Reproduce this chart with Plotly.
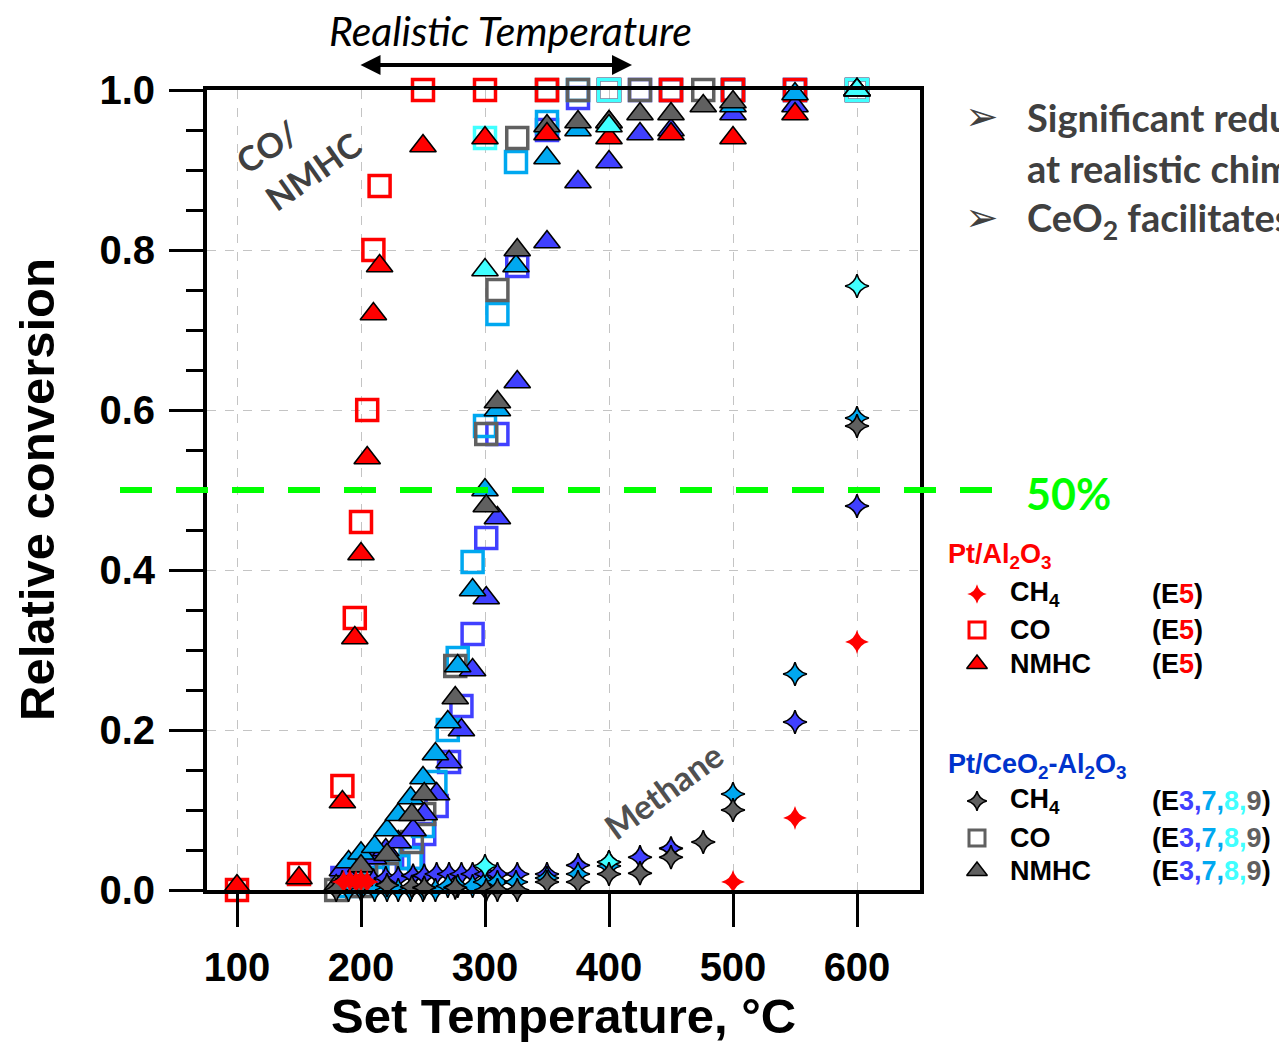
import plotly.graph_objects as go

W, H = 1279, 1042

# ---------------- data ----------------
# Pt/Al2O3 (E5)
e5_T = [100, 150, 185, 195, 200, 205, 210, 215, 250, 300, 350, 400, 450, 500, 550, 600]
e5_co = [0.0, 0.02, 0.13, 0.34, 0.46, 0.60, 0.80, 0.88, 1.0, 1.0, 1.0, 1.0, 1.0, 1.0, 1.0, 1.0]
e5_nmhc = [0.005, 0.015, 0.11, 0.315, 0.42, 0.54, 0.72, 0.78, 0.93, 0.94, 0.945, 0.94, 0.945, 0.94, 0.97, 1.0]
e5_ch4_T = [186, 191, 196, 200, 205, 500, 550, 600]
e5_ch4 = [0.01, 0.012, 0.01, 0.012, 0.01, 0.01, 0.09, 0.31]

# Pt/CeO2-Al2O3 (E3)
e3_T = [185, 200, 210, 220, 230, 242, 251, 261, 271, 281, 290, 301, 310, 326, 350, 375, 400, 425, 450, 500, 550, 600]
e3_co = [0.015, 0.015, 0.02, 0.02, 0.03, 0.04, 0.07, 0.105, 0.16, 0.23, 0.32, 0.44, 0.57, 0.78, 0.95, 0.99,
         1.0, 1.0, 1.0, 1.0, 1.0, 1.0]
e3_nmhc = [0.025, 0.03, 0.04, 0.05, 0.06, 0.075, 0.095, 0.12, 0.16, 0.2, 0.275, 0.365, 0.465, 0.635, 0.81, 0.885,
           0.91, 0.945, 0.95, 0.97, 0.98, 1.0]
e3_ch4 = [0.01, 0.01, 0.012, 0.015, 0.015, 0.018, 0.018, 0.02, 0.02, 0.02, 0.02, 0.02, 0.02, 0.02, 0.02, 0.031,
          0.035, 0.041, 0.052, None, 0.21, 0.48]

# Pt/CeO2-Al2O3 (E7)
e7_T = [190, 200, 211, 221, 230, 240, 250, 260, 270, 278, 290, 300, 310, 325, 350, 375, 400, 500, 550, 600]
e7_co = [0.005, 0.01, 0.015, 0.02, 0.03, 0.04, 0.08, 0.135, 0.2, 0.29, 0.41, 0.58, 0.72, 0.91, 0.96, 1.0, 1.0,
         1.0, 1.0, 1.0]
e7_nmhc = [0.035, 0.046, 0.054, 0.075, 0.094, 0.115, 0.14, 0.17, 0.21, 0.28, 0.375, 0.5, 0.6, 0.78, 0.915, 0.95,
           0.96, 0.98, 0.995, 1.0]
e7_ch4 = [0.0, 0.0, 0.0, 0.0, 0.0, 0.0, 0.0, 0.0, 0.005, 0.005, 0.005, 0.01, 0.01, 0.01, 0.015, 0.02, 0.03,
          0.12, 0.27, 0.59]

# Pt/CeO2-Al2O3 (E8)
e8_T = [300, 400, 600]
e8_co = [0.94, 1.0, 1.0]
e8_nmhc = [0.775, 0.955, 1.0]
e8_ch4 = [0.03, 0.035, 0.755]

# Pt/CeO2-Al2O3 (E9)
e9_T = [180, 200, 221, 241, 251, 276, 301, 310, 326, 350, 375, 400, 425, 450, 476, 500, 600]
e9_co = [0.0, 0.005, 0.02, 0.06, 0.095, 0.28, 0.57, 0.75, 0.94, 1.0, 1.0, 1.0, 1.0, 1.0, 1.0, 1.0, 1.0]
e9_nmhc = [0.005, 0.03, 0.044, 0.094, 0.12, 0.24, 0.48, 0.61, 0.80, 0.955, 0.96, 0.96, 0.97, 0.97, 0.98, 0.985, 1.0]
e9_ch4 = [0.0, 0.006, 0.006, 0.004, 0.003, 0.003, 0.0, 0.0, 0.0, 0.01, 0.01, 0.02, 0.021, 0.041, 0.06, 0.10, 0.58]

x_ticks = [100, 200, 300, 400, 500, 600]
y_ticks = [0.0, 0.2, 0.4, 0.6, 0.8, 1.0]

RED = "#FF0000"
C3 = "#4040FF"
C7 = "#00A8F0"
C8 = "#40FFFF"
C9 = "#606060"

SQ_SIZE = 21
TRI_SIZE = 23
STAR_SIZE = 17

fig = go.Figure()


def sq(x, y, c):
    fig.add_trace(go.Scatter(x=x, y=y, mode="markers", cliponaxis=False, showlegend=False,
                             marker=dict(symbol="square-open", size=SQ_SIZE, color=c,
                                         line=dict(width=3.5, color=c))))


def tri(x, y, c):
    fig.add_trace(go.Scatter(x=x, y=y, mode="markers", cliponaxis=False, showlegend=False,
                             marker=dict(symbol="triangle-up", size=TRI_SIZE, color=c,
                                         line=dict(width=1.6, color="black"))))


def star(x, y, c, outline=True):
    fig.add_trace(go.Scatter(x=x, y=y, mode="markers", cliponaxis=False, showlegend=False,
                             marker=dict(symbol="star-diamond", size=STAR_SIZE, color=c,
                                         line=dict(width=1.6 if outline else 0, color="black"))))


# squares (CO)
sq(e3_T, e3_co, C3)
sq(e7_T, e7_co, C7)
sq(e9_T, e9_co, C9)
sq(e5_T, e5_co, RED)
sq(e8_T, e8_co, C8)
# triangles (NMHC)
tri(e3_T, e3_nmhc, C3)
tri(e7_T, e7_nmhc, C7)
tri(e9_T, e9_nmhc, C9)
tri(e5_T, e5_nmhc, RED)
tri(e8_T, e8_nmhc, C8)
# stars (CH4)
star(e3_T, e3_ch4, C3)
star(e7_T, e7_ch4, C7)
star(e8_T, e8_ch4, C8)
star(e9_T, e9_ch4, C9)
star(e5_ch4_T, e5_ch4, RED, outline=False)

# ---------------- legend symbols (pixel overlay axes) ----------------
leg_sym_x = [977, 977, 977, 977, 977, 977]
leg_sym_y = [594, 630, 664, 801, 838, 871]
fig.add_trace(go.Scatter(x=[leg_sym_x[0]], y=[leg_sym_y[0]], xaxis="x2", yaxis="y2", mode="markers",
                         cliponaxis=False, showlegend=False,
                         marker=dict(symbol="star-diamond", size=14, color=RED, line=dict(width=0))))
fig.add_trace(go.Scatter(x=[leg_sym_x[1]], y=[leg_sym_y[1]], xaxis="x2", yaxis="y2", mode="markers",
                         cliponaxis=False, showlegend=False,
                         marker=dict(symbol="square-open", size=16, color=RED, line=dict(width=3, color=RED))))
fig.add_trace(go.Scatter(x=[leg_sym_x[2]], y=[leg_sym_y[2]], xaxis="x2", yaxis="y2", mode="markers",
                         cliponaxis=False, showlegend=False,
                         marker=dict(symbol="triangle-up", size=18, color=RED, line=dict(width=1.5, color="black"))))
fig.add_trace(go.Scatter(x=[leg_sym_x[3]], y=[leg_sym_y[3]], xaxis="x2", yaxis="y2", mode="markers",
                         cliponaxis=False, showlegend=False,
                         marker=dict(symbol="star-diamond", size=14, color=C9, line=dict(width=1.5, color="black"))))
fig.add_trace(go.Scatter(x=[leg_sym_x[4]], y=[leg_sym_y[4]], xaxis="x2", yaxis="y2", mode="markers",
                         cliponaxis=False, showlegend=False,
                         marker=dict(symbol="square-open", size=16, color=C9, line=dict(width=3, color=C9))))
fig.add_trace(go.Scatter(x=[leg_sym_x[5]], y=[leg_sym_y[5]], xaxis="x2", yaxis="y2", mode="markers",
                         cliponaxis=False, showlegend=False,
                         marker=dict(symbol="triangle-up", size=18, color=C9, line=dict(width=1.5, color="black"))))

ARIAL = "Liberation Sans"
CAL = "Lato"

ann = []


def A(x, y, text, size, color="black", family=ARIAL, weight="bold", xanchor="center", yanchor="middle",
      angle=0, style="normal"):
    ann.append(dict(x=x, y=y, xref="x2", yref="y2", text=text, showarrow=False, xanchor=xanchor,
                    yanchor=yanchor, textangle=angle,
                    font=dict(size=size, color=color, family=family, weight=weight, style=style)))


# axis titles
A(37, 490, "Relative conversion", 49, angle=-90)
A(563, 1016, "Set Temperature, °C", 49)

# top annotation
A(510, 30, "Realistic Temperature", 41, family=CAL, weight="normal", style="italic")
ann.append(dict(x=632, y=65, ax=359, ay=65, xref="x2", yref="y2", axref="x2", ayref="y2", text="",
                showarrow=True, arrowhead=2, arrowside="end+start", arrowsize=1, arrowwidth=4,
                arrowcolor="black"))

# in-plot labels
A(266, 146, "CO/", 34, color="#404040", family=CAL, angle=-33)
A(313, 170, "NMHC", 34, color="#404040", family=CAL, angle=-35)
A(663, 790, "Methane", 34, color="#505050", family=CAL, angle=-36)

# 50 %
A(1024, 493, "50%", 43, color="#00FF00", family=CAL, xanchor="left")

# bullet text
A(982, 116, "➢", 40, color="#404040", family="DejaVu Sans", weight="normal")
A(982, 217, "➢", 40, color="#404040", family="DejaVu Sans", weight="normal")
A(1025, 117, "Significant reduction", 38, color="#404040", family=CAL, xanchor="left")
A(1025, 168, "at realistic chimney", 38, color="#404040", family=CAL, xanchor="left")
A(1025, 220, "CeO<sub>2</sub> facilitates", 38, color="#404040", family=CAL, xanchor="left")

# legend text
LF = 27
A(946, 556, "Pt/Al<sub>2</sub>O<sub>3</sub>", LF, color="#FF0000", xanchor="left")
A(1008, 594, "CH<sub>4</sub>", LF, xanchor="left")
A(1008, 630, "CO", LF, xanchor="left")
A(1008, 664, "NMHC", LF, xanchor="left")
e5_lab = "(E<span style='color:#FF0000'>5</span>)"
for yy in (594, 630, 664):
    A(1150, yy, e5_lab, LF, xanchor="left")
A(946, 766, "Pt/CeO<sub>2</sub>-Al<sub>2</sub>O<sub>3</sub>", LF, color="#0033CC", xanchor="left")
A(1008, 801, "CH<sub>4</sub>", LF, xanchor="left")
A(1008, 838, "CO", LF, xanchor="left")
A(1008, 871, "NMHC", LF, xanchor="left")
ce_lab = ("(E<span style='color:%s'>3,</span><span style='color:%s'>7,</span>"
          "<span style='color:%s'>8,</span><span style='color:%s'>9</span>)") % (C3, C7, C8, C9)
for yy in (801, 838, 871):
    A(1150, yy, ce_lab, LF, xanchor="left")

shapes = [dict(type="line", xref="x2", yref="y", x0=120, x1=995, y0=0.5, y1=0.5,
               line=dict(color="#00FF00", width=6, dash="32px,24px"), layer="above")]

x_dom = [207 / W, 920 / W]
y_dom = [(H - 890) / H, (H - 90) / H]

fig.update_layout(
    width=W, height=H, autosize=False,
    margin=dict(l=0, r=0, t=0, b=0, autoexpand=False),
    paper_bgcolor="white", plot_bgcolor="rgba(0,0,0,0)",
    showlegend=False,
    annotations=ann, shapes=shapes,
    xaxis=dict(domain=x_dom, range=[100 - 30 / 1.24, 100 + 683 / 1.24], anchor="y", automargin=False,
               tickmode="array", tickvals=x_ticks, ticktext=[str(v) for v in x_ticks],
               ticks="outside", ticklen=33, tickwidth=3, tickcolor="black",
               showline=True, linewidth=4, linecolor="black", mirror=True,
               showgrid=True, gridcolor="#c4c4c4", griddash="dash", gridwidth=1, zeroline=False,
               tickfont=dict(size=40, family=ARIAL, color="black", weight="bold"),
               ticklabelstandoff=6),
    yaxis=dict(domain=y_dom, range=[0, 1], anchor="x", automargin=False,
               tickmode="array", tickvals=y_ticks, ticktext=["%.1f" % v for v in y_ticks],
               ticks="outside", ticklen=34, tickwidth=3, tickcolor="black",
               minor=dict(dtick=0.05, tick0=0, ticklen=17, tickwidth=3, ticks="outside",
                          tickcolor="black", showgrid=False),
               showline=True, linewidth=4, linecolor="black", mirror=True,
               showgrid=True, gridcolor="#c4c4c4", griddash="dash", gridwidth=1, zeroline=False,
               tickfont=dict(size=40, family=ARIAL, color="black", weight="bold"),
               ticklabelstandoff=6),
    xaxis2=dict(domain=[0, 1], range=[0, W], anchor="y2", visible=False, fixedrange=True, automargin=False),
    yaxis2=dict(domain=[0, 1], range=[H, 0], anchor="x2", visible=False, fixedrange=True, automargin=False),
)

fig.write_html("out.html")
